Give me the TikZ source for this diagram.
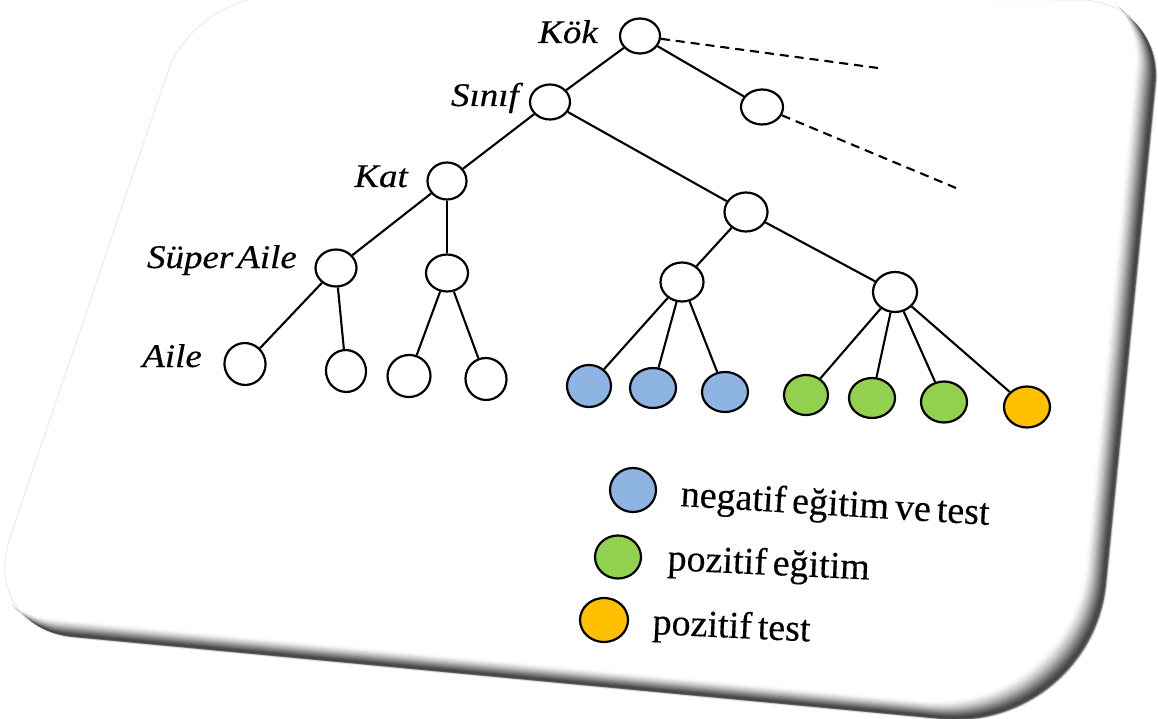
\documentclass[tikz,border=0pt]{standalone}
\usepackage{fontspec}
\setmainfont{Liberation Serif}
\newfontfamily\lblfont[FakeStretch=1.12,FakeBold=0.4]{Liberation Serif}
\newfontfamily\legfont[FakeBold=0.3]{Liberation Serif}
\usetikzlibrary{shapes.geometric}

\definecolor{negblue}{HTML}{8DB4E2}
\definecolor{posgreen}{HTML}{92D050}
\definecolor{postest}{HTML}{FFC000}

% outline of the tilted card (pixel-like units, y pointing down)
\newcommand\cardoutline{(271,-3) -- (1080,0)
  .. controls (1126.9,0) and (1161.2,37.9) .. (1156.6,84.6)
  -- (1107,585)
  .. controls (1098.7,667.2) and (1025.1,727.7) .. (942.7,719.9)
  -- (73.6,637.9)
  .. controls (21.4,633) and (-7.3,588.7) .. (9.5,539)
  -- (168,71)
  .. controls (181.8,30.2) and (227.9,-3) .. (271,-3) -- cycle}

\tikzset{
  tnode/.style={ellipse, draw=black, line width=2.2pt, fill=white, inner sep=0pt},
  edge/.style={line width=2.1pt, black},
  dashedge/.style={line width=2.1pt, black, dash pattern=on 9pt off 6pt},
  lbl/.style={font={\lblfont\itshape\fontsize{33}{33}\selectfont\spaceskip=4pt\relax}, inner sep=0pt, anchor=base east},
  legtext/.style={font={\legfont\fontsize{38}{38}\selectfont\spaceskip=6pt\relax}, inner sep=0pt, anchor=base west},
}

\begin{document}
\begin{tikzpicture}[x=1pt,y=-1pt]
\useasboundingbox (0,0) rectangle (1158,719);
\clip (0,0) rectangle (1158,719);

% card with its shaded lower and right rim
\foreach \k/\p in {0/30,1/62,2/72,3/72,4/70,5/66,6/61,7/56,8/51,9/46,10/41,11/36,12/31,13/26,14/22,15/18,16/14,17/10,18/7,19/4,20/2,21/1,22/0}{
  \fill[black!\p!white, shift={(-\k,-0.9*\k)}] \cardoutline;
}
\draw[black!10, line width=0.7pt] \cardoutline;

% tree nodes
\node[tnode, minimum width=40pt, minimum height=35pt] (root) at (640,36) {};
\node[tnode, minimum width=42pt, minimum height=35pt] (n2) at (762,107) {};
\node[tnode, minimum width=40pt, minimum height=35pt] (sinif) at (550,102) {};
\node[tnode, minimum width=39pt, minimum height=37pt] (kat) at (447,181) {};
\node[tnode, minimum width=41pt, minimum height=37pt] (sa1) at (336,268) {};
\node[tnode, minimum width=42pt, minimum height=37pt] (sa2) at (447,273) {};
\node[tnode, minimum width=43pt, minimum height=39pt] (n3) at (746,212) {};
\node[tnode, minimum width=43pt, minimum height=39pt] (n4) at (682,282) {};
\node[tnode, minimum width=44pt, minimum height=40pt] (n5) at (895,292) {};

\node[tnode, minimum width=41pt, minimum height=42pt, rotate=15] (l1) at (245,364) {};
\node[tnode, minimum width=40pt, minimum height=42pt, rotate=10] (l2) at (346,371) {};
\node[tnode, minimum width=43pt, minimum height=42pt, rotate=10] (l3) at (409,376) {};
\node[tnode, minimum width=41pt, minimum height=42pt, rotate=10] (l4) at (486,379) {};

\node[tnode, fill=negblue, minimum width=44pt, minimum height=42pt] (b1) at (589,386) {};
\node[tnode, fill=negblue, minimum width=46pt, minimum height=40pt] (b2) at (653,388) {};
\node[tnode, fill=negblue, minimum width=46pt, minimum height=40pt] (b3) at (725,392) {};
\node[tnode, fill=posgreen, minimum width=44pt, minimum height=40pt] (g1) at (806,395) {};
\node[tnode, fill=posgreen, minimum width=46pt, minimum height=40pt] (g2) at (872,398) {};
\node[tnode, fill=posgreen, minimum width=46pt, minimum height=41pt] (g3) at (944,402) {};
\node[tnode, fill=postest, minimum width=46pt, minimum height=41pt] (o1) at (1027,407) {};

% loose ends of the dashed branches
\coordinate (d1) at (878,68);
\coordinate (d2) at (956,188);

% branches
\draw[edge] (root) -- (sinif);
\draw[edge] (root) -- (n2);
\draw[edge] (sinif) -- (kat);
\draw[edge] (sinif) -- (n3);
\draw[edge] (kat) -- (sa1);
\draw[edge] (kat) -- (sa2);
\draw[edge] (sa1) -- (l1);
\draw[edge] (sa1) -- (l2);
\draw[edge] (sa2) -- (l3);
\draw[edge] (sa2) -- (l4);
\draw[edge] (n3) -- (n4);
\draw[edge] (n3) -- (n5);
\draw[edge] (n4) -- (b1);
\draw[edge] (n4) -- (b2);
\draw[edge] (n4) -- (b3);
\draw[edge] (n5) -- (g1);
\draw[edge] (n5) -- (g2);
\draw[edge] (n5) -- (g3);
\draw[edge] (n5) -- (o1);
\draw[dashedge] (root) -- (d1);
\draw[dashedge] (n2) -- (d2);

% level labels
\node[lbl] (tkok) at (598,43) {Kök};
\node[lbl] (tsinif) at (519,106) {Sınıf};
\node[lbl] (tkat) at (408,187) {Kat};
\node[lbl] (tsuper) at (297,268) {Süper Aile};
\node[lbl] (taile) at (202,367) {Aile};

% legend
\node[tnode, fill=negblue, minimum width=46pt, minimum height=44pt] (kb) at (633,490) {};
\node[tnode, fill=posgreen, minimum width=46pt, minimum height=43pt] (kg) at (618,557) {};
\node[tnode, fill=postest, minimum width=48pt, minimum height=44pt] (ko) at (604,620) {};
\node[legtext, rotate=-3.5] (tneg) at (680,506) {negatif eğitim ve test};
\node[legtext, rotate=-2.7] (tpose) at (667,570) {pozitif eğitim};
\node[legtext, rotate=-2.7] (tpost) at (652,634) {pozitif test};
\end{tikzpicture}
\end{document}
